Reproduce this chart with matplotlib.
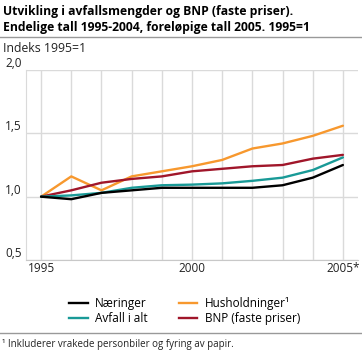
import matplotlib.pyplot as plt
from matplotlib.lines import Line2D

plt.rcParams['font.family'] = ['Open Sans', 'DejaVu Sans']

# Data
years = [1995, 1996, 1997, 1998, 1999, 2000, 2001, 2002, 2003, 2004, 2005]
naeringer = [1.00, 0.98, 1.03, 1.05, 1.07, 1.07, 1.07, 1.07, 1.09, 1.15, 1.25]
husholdninger = [1.00, 1.16, 1.05, 1.16, 1.20, 1.24, 1.29, 1.38, 1.42, 1.48, 1.56]
avfall_i_alt = [1.00, 1.01, 1.03, 1.07, 1.09, 1.095, 1.105, 1.125, 1.15, 1.21, 1.31]
bnp = [1.00, 1.05, 1.11, 1.14, 1.16, 1.20, 1.22, 1.24, 1.25, 1.30, 1.33]

x_ticks = [1995, 2000, 2005]
x_labels = ["1995", "2000", "2005*"]
y_ticks = [0.5, 1.0, 1.5, 2.0]
y_labels = ["0,5", "1,0", "1,5", "2,0"]

fig = plt.figure(figsize=(3.62, 3.52), dpi=100)
W, H = 362, 352
ax = fig.add_axes([26 / W, 1 - 260 / H, 332 / W, 190 / H])

series = [
    ("Næringer", naeringer, "#000000"),
    ("Husholdninger¹", husholdninger, "#f7982e"),
    ("Avfall i alt", avfall_i_alt, "#199a97"),
    ("BNP (faste priser)", bnp, "#a0162a"),
]
# draw order: orange and red under the others
for name, vals, col in [series[1], series[3], series[2], series[0]]:
    ax.plot(years, vals, color=col, lw=1.7, solid_capstyle="round")

ax.set_xlim(1994.5, 2005.5)
ax.set_ylim(0.5, 2.0)
ax.set_xticks(years)
ax.set_xticklabels(["" for _ in years])
for xt, lab in zip(x_ticks, x_labels):
    ax.text(xt, 0.485, lab, ha="center", va="top", fontsize=8.5, color="#222222")
ax.set_yticks(y_ticks)
ax.set_yticklabels(y_labels, fontsize=8.5, color="#222222")
ax.tick_params(axis="both", length=0)
ax.tick_params(axis="y", pad=3)
for lab in ax.get_yticklabels():
    lab.set_verticalalignment("bottom")
ax.grid(True, color="#dadada", lw=1)
ax.set_axisbelow(True)
for s in ["top", "right"]:
    ax.spines[s].set_visible(False)
ax.spines["left"].set_color("#dadada")
ax.spines["bottom"].set_color("#c8c8c8")

# Titles
fig.text(3 / W, 1 - 12 / H, "Utvikling i avfallsmengder og BNP (faste priser).",
         fontsize=8.7, fontweight="bold", va="center", ha="left")
fig.text(3 / W, 1 - 28 / H, "Endelige tall 1995-2004, foreløpige tall 2005. 1995=1",
         fontsize=8.7, fontweight="bold", va="center", ha="left")
fig.add_artist(Line2D([0, 1], [1 - 36.5 / H] * 2, color="#999999", lw=1))
fig.text(3 / W, 1 - 48 / H, "Indeks 1995=1", fontsize=8.8, va="center", ha="left",
         color="#222222")

# Legend
handles = [Line2D([], [], color=c, lw=1.7) for _, _, c in series]
labels = [n for n, _, _ in series]
order = [0, 2, 1, 3]
fig.legend([handles[i] for i in order], [labels[i] for i in order],
           ncol=2, loc="center", bbox_to_anchor=(0.51, 1 - 311 / H),
           frameon=False, fontsize=8.5, handlelength=1.6, handletextpad=0.6,
           columnspacing=2.6, labelspacing=0.2)

fig.add_artist(Line2D([0, 1], [1 - 333 / H] * 2, color="#999999", lw=1))
fig.text(2 / W, 1 - 345 / H, "¹ Inkluderer vrakede personbiler og fyring av papir.",
         fontsize=7, va="center", ha="left", color="#222222")

fig.savefig("out.png", dpi=100)
